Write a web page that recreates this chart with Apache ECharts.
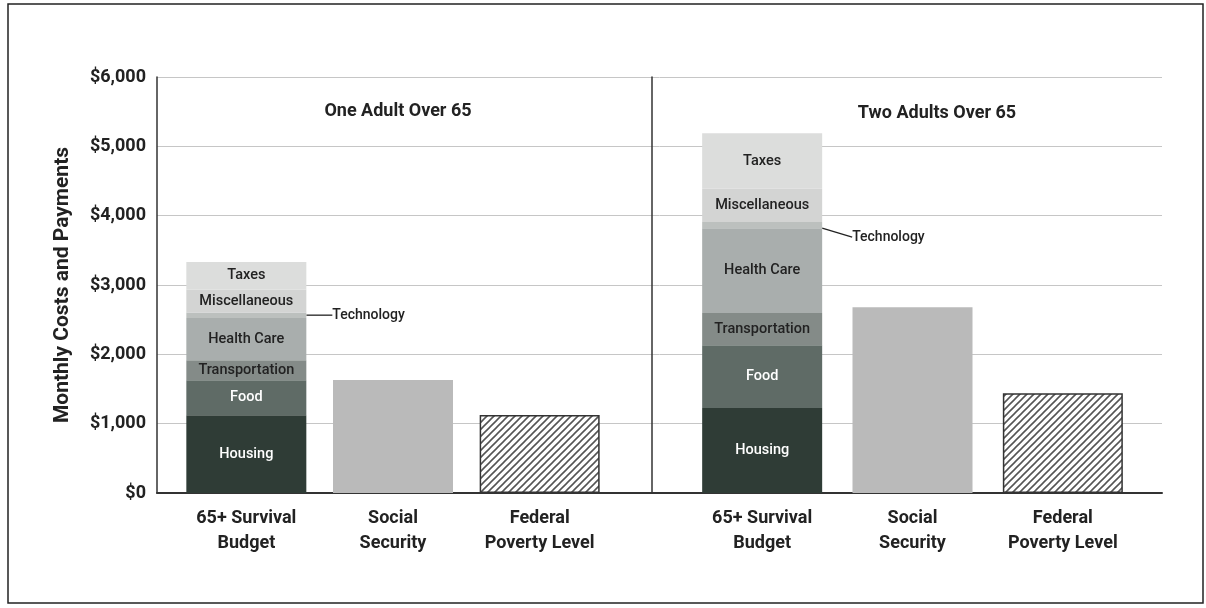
<!DOCTYPE html>
<html>
<head>
<meta charset="utf-8">
<title>65+ Survival Budget</title>
<script src="https://cdn.jsdelivr.net/npm/echarts@6/dist/echarts.min.js"></script>
<style>
  html, body { margin: 0; padding: 0; background: #fff; }
  #main { width: 1206px; height: 608px; }
</style>
</head>
<body>
<div id="main"></div>
<script>
// data (monthly $)
var segNames = ['Housing', 'Food', 'Transportation', 'Health Care', 'Technology', 'Miscellaneous', 'Taxes'];
var segColors = ['#2f3c36', '#5f6b66', '#848b88', '#a9aead', '#bcc0be', '#d3d4d3', '#dcdddc'];
var segLabelColors = ['#fff', '#fff', '#222', '#222', '#222', '#222', '#222'];
var oneAdultBudget = [1120, 505, 290, 610, 80, 330, 395];
var twoAdultsBudget = [1225, 905, 465, 1225, 90, 480, 800];
var socialSecurity = [1630, 2680];
var povertyLevel = [1125, 1440];
var groupTitles = ['One Adult Over 65', 'Two Adults Over 65'];
var categories = ['65+ Survival\nBudget', 'Social\nSecurity', 'Federal\nPoverty Level'];
var yTicks = [0, 1000, 2000, 3000, 4000, 5000, 6000];

var chart = echarts.init(document.getElementById('main'), null, { renderer: 'canvas' });

// diagonal hatch for the poverty level bars
function hatch() {
  var c = document.createElement('canvas');
  c.width = 7; c.height = 7;
  var ctx = c.getContext('2d');
  ctx.fillStyle = '#fff';
  ctx.fillRect(0, 0, 7, 7);
  ctx.strokeStyle = '#555';
  ctx.lineWidth = 1.6;
  ctx.beginPath();
  ctx.moveTo(0, 7); ctx.lineTo(7, 0);
  ctx.moveTo(-2, 2); ctx.lineTo(2, -2);
  ctx.moveTo(5, 9); ctx.lineTo(9, 5);
  ctx.stroke();
  return c;
}
var hatchImg = hatch();

var font = 'Roboto, "Liberation Sans", sans-serif';

function groupSeries(idx, budget, techLayout) {
  var list = [];
  segNames.forEach(function (name, i) {
    var isTech = name === 'Technology';
    list.push({
      name: name,
      type: 'bar',
      xAxisIndex: idx + 1,
      yAxisIndex: idx + 1,
      stack: 'g' + idx,
      barWidth: 120,
      data: [budget[i], '-', '-'],
      itemStyle: { color: segColors[i] },
      label: isTech ? {
        show: true,
        position: 'right',
        distance: 4,
        formatter: name,
        color: '#222',
        fontFamily: font,
        fontSize: 14,
        fontWeight: 500
      } : {
        show: true,
        position: 'inside',
        formatter: name,
        color: segLabelColors[i],
        fontFamily: font,
        fontSize: 14.5,
        fontWeight: 500
      },
      labelLayout: isTech ? techLayout : null,
      labelLine: isTech ? { show: true, lineStyle: { color: '#222', width: 1.3 } } : null
    });
  });
  list.push({
    name: 'Social Security',
    type: 'bar',
    xAxisIndex: idx + 1,
    yAxisIndex: idx + 1,
    stack: 'g' + idx,
    barWidth: 120,
    data: ['-', socialSecurity[idx], '-'],
    itemStyle: { color: '#bababa' }
  });
  list.push({
    name: 'Federal Poverty Level',
    type: 'bar',
    xAxisIndex: idx + 1,
    yAxisIndex: idx + 1,
    stack: 'g' + idx,
    barWidth: 120,
    data: ['-', '-', povertyLevel[idx]],
    itemStyle: { color: { image: hatchImg, repeat: 'repeat' }, borderColor: '#333', borderWidth: 1.5 }
  });
  return list;
}

var gridTop = 77, gridBottom = 115;
var xLabel = { margin: 13, fontFamily: font, fontSize: 18, fontWeight: 'bold', color: '#222', lineHeight: 25 };

var option = {
  backgroundColor: '#fff',
  animation: false,
  title: [
    { text: groupTitles[0], left: 393, top: 97, textAlign: 'center',
      textStyle: { fontFamily: font, fontSize: 18, fontWeight: 'bold', color: '#222' } },
    { text: groupTitles[1], left: 932, top: 99, textAlign: 'center',
      textStyle: { fontFamily: font, fontSize: 18, fontWeight: 'bold', color: '#222' } }
  ],
  graphic: [{
    type: 'rect',
    shape: { x: 8, y: 4, width: 1195, height: 599 },
    style: { fill: 'none', stroke: '#222', lineWidth: 1.5 },
    silent: true
  }],
  grid: [
    { left: 157, right: 44, top: gridTop, bottom: gridBottom },
    { left: 173, width: 440, top: gridTop, bottom: gridBottom },
    { left: 687, width: 451, top: gridTop, bottom: gridBottom }
  ],
  xAxis: [
    { gridIndex: 0, type: 'value', min: 0, max: 1, axisLabel: { show: false }, axisTick: { show: false },
      splitLine: { show: false }, axisLine: { show: true, lineStyle: { color: '#333', width: 2 } } },
    { gridIndex: 1, type: 'category', data: categories, axisLine: { show: false }, axisTick: { show: false },
      axisLabel: xLabel },
    { gridIndex: 2, type: 'category', data: categories, axisLine: { show: false }, axisTick: { show: false },
      axisLabel: xLabel }
  ],
  yAxis: [
    { gridIndex: 0, type: 'value', min: yTicks[0], max: yTicks[yTicks.length - 1], interval: 1000,
      name: 'Monthly Costs and Payments', nameLocation: 'middle', nameGap: 84,
      nameTextStyle: { fontFamily: font, fontSize: 21, fontWeight: 'bold', color: '#222' },
      axisLine: { show: true, lineStyle: { color: '#333', width: 1.5 } },
      axisTick: { show: false },
      axisLabel: { margin: 11, fontFamily: font, fontSize: 18, fontWeight: 'bold', color: '#222',
        formatter: function (v) { return '$' + v.toLocaleString('en-US'); } },
      splitLine: { show: true, lineStyle: { color: '#c6c6c6', width: 1 } } },
    { gridIndex: 1, type: 'value', min: 0, max: 6000, show: false },
    // right group axis line doubles as the divider between the two groups
    { gridIndex: 2, type: 'value', min: 0, max: 6000, position: 'left', offset: 35,
      axisLine: { show: true, lineStyle: { color: '#333', width: 1.5 } },
      axisTick: { show: false }, axisLabel: { show: false }, splitLine: { show: false } }
  ],
  series: [].concat(
    groupSeries(0, oneAdultBudget, { dx: 22 }),
    groupSeries(1, twoAdultsBudget, { dx: 26, dy: 12 })
  )
};

chart.setOption(option);
</script>
</body>
</html>
